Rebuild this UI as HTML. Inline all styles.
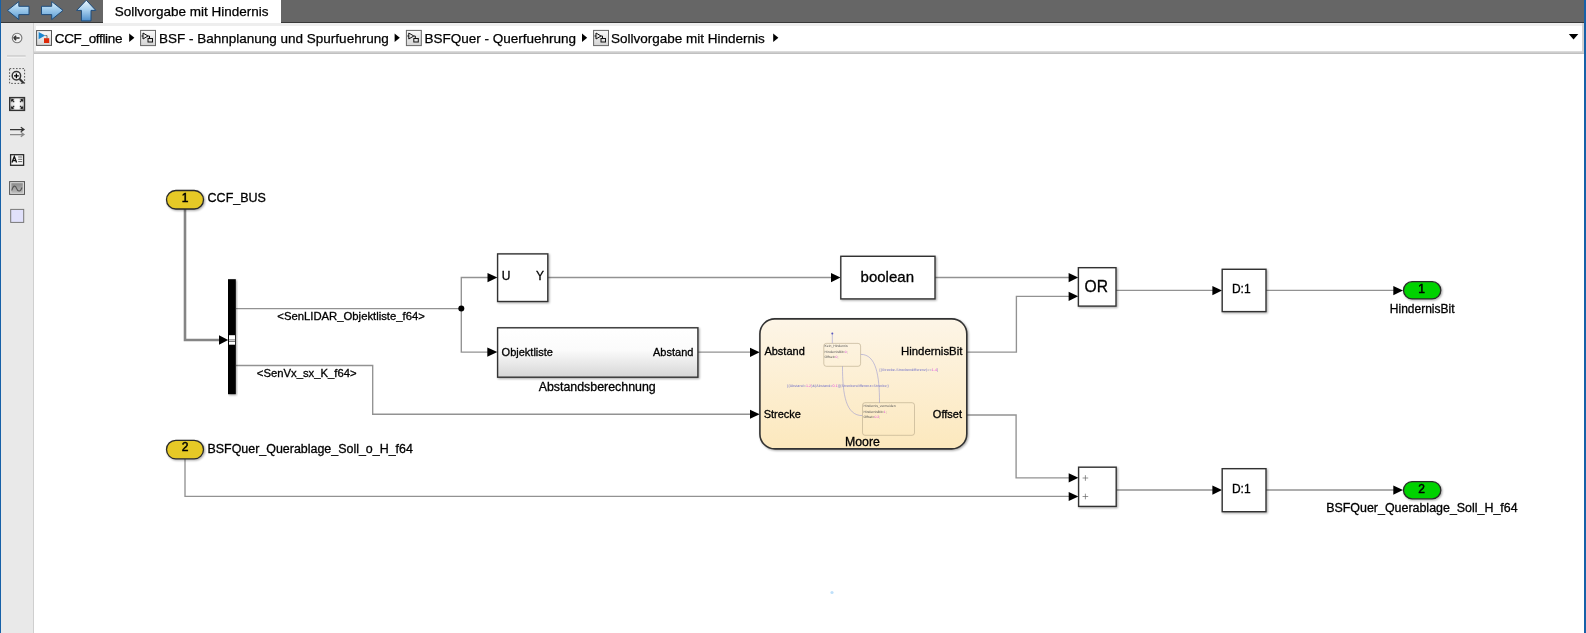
<!DOCTYPE html>
<html><head><meta charset="utf-8">
<style>
*{margin:0;padding:0;box-sizing:border-box}
body{will-change:transform}
html,body{width:1586px;height:633px;overflow:hidden;background:#fff;font-family:"Liberation Sans",sans-serif;color:#000}
.a{position:absolute}
#topbar{left:0;top:0;width:1586px;height:23px;background:#666;border-bottom:1px solid #383838}
#tab{left:103px;top:0;width:178px;height:23px;background:#fff}
#tabtxt{left:114.8px;top:3.8px;font-size:13.5px;white-space:nowrap;line-height:16px}
#tool{left:0;top:23px;width:34px;height:610px;background:#e9e9e9;border-right:1px solid #cfcfcf}
#crumbwrap{left:34px;top:23px;width:1550px;height:28.3px;background:#eeeeee}
#crumbbot{left:34px;top:51px;width:1550px;height:2.6px;background:linear-gradient(#e2e2e2,#b9b9b9)}
#crumb{left:35.7px;top:25.5px;width:1546.5px;height:25.5px;background:#fff}
.ct{position:absolute;top:30.8px;font-size:13.5px;white-space:nowrap;line-height:16px}
#lb{left:0;top:0;width:1.3px;height:633px;background:#1761a8}
#rb{left:1584px;top:0;width:2px;height:633px;background:#1761a8}
svg{position:absolute;left:0;top:0}
text{font-family:"Liberation Sans",sans-serif}
.tx text{stroke:#000;stroke-width:0.3px}
.ct,#tabtxt{-webkit-text-stroke:0.25px #000}
</style></head><body>
<div class="a" id="topbar"></div>
<div class="a" id="tab"></div>
<div class="a" id="tabtxt">Sollvorgabe mit Hindernis</div>
<div class="a" id="tool"></div>
<div class="a" id="crumbwrap"></div>
<div class="a" id="crumb"></div>
<div class="a" id="crumbbot"></div>
<div class="a" style="left:1582.2px;top:23px;width:1.5px;height:29px;background:#d2d2d2"></div>
<div class="ct" style="left:54.8px;letter-spacing:-0.34px">CCF_offline</div>
<div class="ct" style="left:159px">BSF - Bahnplanung und Spurfuehrung</div>
<div class="ct" style="left:424.5px">BSFQuer - Querfuehrung</div>
<div class="ct" style="left:611px">Sollvorgabe mit Hindernis</div>
<svg width="1586" height="60" viewBox="0 0 1586 60" style="position:absolute;left:0;top:0">
<defs>
 <linearGradient id="gNav" x1="0" y1="0" x2="0" y2="1">
  <stop offset="0" stop-color="#e4f3fc"/><stop offset="0.35" stop-color="#a9d2f0"/><stop offset="1" stop-color="#5b9bd3"/>
 </linearGradient>
 <linearGradient id="gNavU" x1="0" y1="0" x2="0" y2="1">
  <stop offset="0" stop-color="#eaf6fd"/><stop offset="0.5" stop-color="#a4cdee"/><stop offset="1" stop-color="#4f8fcc"/>
 </linearGradient>
 <linearGradient id="gIco" x1="0" y1="0" x2="0" y2="1">
  <stop offset="0" stop-color="#fafafa"/><stop offset="1" stop-color="#d4d4d4"/>
 </linearGradient>
</defs>
<g stroke="#1f4d7c" stroke-width="1" stroke-linejoin="round" fill="url(#gNav)">
 <path d="M7.5 10.4 L18.8 1.6 V6.3 H29 V14.6 H18.8 V19.6 Z"/>
 <path d="M63 10.4 L51.7 1.6 V6.3 H41.5 V14.6 H51.7 V19.6 Z"/>
 <path d="M86.3 0.2 L95.8 10.4 H91 V20.9 H81.4 V10.4 H76.6 Z" fill="url(#gNavU)"/>
</g>
<!-- breadcrumb back circle -->
<circle cx="17.1" cy="38" r="4.8" fill="#f2f2f2" stroke="#777" stroke-width="1.1"/>
<path d="M13.6 38 h6 M13.6 38 l2.6 -2.3 M13.6 38 l2.6 2.3" stroke="#333" stroke-width="1.5" fill="none"/>
<!-- separator -->
<rect x="7" y="55.5" width="18.6" height="1.2" fill="#bdbdbd"/>
<rect x="7" y="56.7" width="18.6" height="0.8" fill="#fbfbfb"/>
<!-- breadcrumb icons -->
<rect x="36.6" y="30.6" width="14.9" height="14.8" fill="url(#gIco)" stroke="#555" stroke-width="1"/>
<path d="M38.6 32 L45.2 35.6 L38.6 39.2 Z" fill="#1a86d0"/>
<path d="M45.2 35.6 H47 V38.5" stroke="#444" stroke-width="0.7" fill="none"/>
<rect x="44" y="38.2" width="5.2" height="4.8" fill="#dd2a0a"/>
<g>
 <rect x="140.6" y="30.4" width="14.9" height="15.2" fill="url(#gIco)" stroke="#666" stroke-width="1"/>
 <rect x="406.4" y="30.4" width="14.9" height="15.2" fill="url(#gIco)" stroke="#666" stroke-width="1"/>
 <rect x="593.6" y="30.4" width="14.9" height="15.2" fill="url(#gIco)" stroke="#666" stroke-width="1"/>
</g>
<g fill="none" stroke="#111" stroke-width="1">
 <path d="M143 33 L148 36 L143 39 Z M141.5 36 H143 M148 36 H149.5 V38.5"/>
 <rect x="148" y="38.5" width="4.5" height="3.5"/>
 <path d="M408.8 33 L413.8 36 L408.8 39 Z M407.3 36 H408.8 M413.8 36 H415.3 V38.5"/>
 <rect x="413.8" y="38.5" width="4.5" height="3.5"/>
 <path d="M596 33 L601 36 L596 39 Z M594.5 36 H596 M601 36 H602.5 V38.5"/>
 <rect x="601" y="38.5" width="4.5" height="3.5"/>
</g>
<g fill="#000">
 <path d="M129.2 33.6 L134.4 37.8 L129.2 42 Z"/>
 <path d="M394.6 33.6 L399.8 37.8 L394.6 42 Z"/>
 <path d="M582 33.6 L587.2 37.8 L582 42 Z"/>
 <path d="M773.2 33.6 L778.4 37.8 L773.2 42 Z"/>
 <path d="M1568.8 34.1 H1578.3 L1573.55 39.5 Z"/>
</g>
</svg>

<svg width="34" height="240" viewBox="0 0 34 240" style="position:absolute;left:0;top:0">
<defs>
 <linearGradient id="gFit" x1="0" y1="0" x2="1" y2="0">
  <stop offset="0" stop-color="#7a7a7a"/><stop offset="0.4" stop-color="#f4f4f4"/><stop offset="0.6" stop-color="#f4f4f4"/><stop offset="1" stop-color="#7a7a7a"/>
 </linearGradient>
 <linearGradient id="gFitV" x1="0" y1="0" x2="0" y2="1">
  <stop offset="0" stop-color="#fff" stop-opacity="0"/><stop offset="0.5" stop-color="#fff" stop-opacity="0.7"/><stop offset="1" stop-color="#fff" stop-opacity="0"/>
 </linearGradient>
 <linearGradient id="gImg" x1="0" y1="0" x2="0" y2="1">
  <stop offset="0" stop-color="#8c8c8c"/><stop offset="1" stop-color="#b8b8b8"/>
 </linearGradient>
</defs>
<!-- zoom -->
<rect x="9.6" y="68.6" width="15" height="14.8" fill="none" stroke="#555" stroke-width="1" stroke-dasharray="1.6 1.6"/>
<circle cx="16.4" cy="75.8" r="4.2" fill="#f4f4f4" stroke="#333" stroke-width="1.5"/>
<path d="M14 75.8 h4.8 M16.4 73.4 v4.8" stroke="#000" stroke-width="1.3"/>
<path d="M19.6 79 L23.8 83.2" stroke="#333" stroke-width="2.2"/>
<!-- fit -->
<rect x="9.7" y="97.6" width="14.8" height="12.8" fill="url(#gFit)" stroke="#333" stroke-width="1.4"/>
<rect x="10.4" y="98.3" width="13.4" height="11.4" fill="url(#gFitV)"/>
<g stroke="#222" stroke-width="1.1" fill="none">
 <path d="M11.6 99.6 L14.2 102.2 M11.6 99.6 h2 M11.6 99.6 v2"/>
 <path d="M22.6 99.6 L20 102.2 M22.6 99.6 h-2 M22.6 99.6 v2"/>
 <path d="M11.6 108.4 L14.2 105.8 M11.6 108.4 h2 M11.6 108.4 v-2"/>
 <path d="M22.6 108.4 L20 105.8 M22.6 108.4 h-2 M22.6 108.4 v-2"/>
</g>
<!-- arrows -->
<path d="M10 129.6 H23.8 M20.8 127.3 L24 129.6 L20.8 131.8" stroke="#333" stroke-width="1.2" fill="none"/>
<path d="M10 134.6 H23.8 M20.8 132.3 L24 134.6 L20.8 136.8" stroke="#888" stroke-width="1.2" fill="none"/>
<!-- A= -->
<rect x="10.6" y="154.7" width="13" height="10.6" fill="#f7f7f7" stroke="#2a2a2a" stroke-width="1.3"/>
<path d="M12 162.6 L14.3 156.6 L16.6 162.6 M12.9 160.6 h2.8" stroke="#111" stroke-width="1.4" fill="none"/>
<path d="M18.2 157 h4 M18.2 159.3 h4 M18.2 161.6 h4" stroke="#555" stroke-width="0.9"/>
<!-- image -->
<rect x="9.6" y="181.6" width="14.9" height="12.8" fill="#d8d8d8" stroke="#555" stroke-width="1"/>
<rect x="11.3" y="183.2" width="11.5" height="9.6" fill="url(#gImg)"/>
<path d="M11.8 190.5 C13 185 15.5 185 16.6 188.5 C17.8 192 20.5 192 22 187.5" stroke="#555" stroke-width="1.1" fill="none"/>
<!-- square -->
<rect x="10.7" y="209.4" width="13" height="13" fill="#e1e1fb" stroke="#777" stroke-width="1"/>
</svg>

<div class="a" id="lb"></div>
<div class="a" id="rb"></div>

<svg width="1586" height="633" viewBox="0 0 1586 633">
<defs>
 <linearGradient id="gAb" x1="0" y1="0" x2="0" y2="1">
  <stop offset="0" stop-color="#ffffff"/><stop offset="0.45" stop-color="#fbfbfb"/><stop offset="1" stop-color="#d6d6d6"/>
 </linearGradient>
 <linearGradient id="gMo" x1="0" y1="0" x2="0" y2="1">
  <stop offset="0" stop-color="#fdf5e7"/><stop offset="1" stop-color="#fce8bd"/>
 </linearGradient>
 <filter id="sh" x="-10%" y="-10%" width="130%" height="130%">
  <feGaussianBlur in="SourceAlpha" stdDeviation="0.8"/>
  <feOffset dx="1" dy="1" result="o"/>
  <feComponentTransfer><feFuncA type="linear" slope="0.35"/></feComponentTransfer>
  <feMerge><feMergeNode/><feMergeNode in="SourceGraphic"/></feMerge>
 </filter>
</defs>
<g fill="none" stroke="#929292" stroke-width="1.35">
 <!-- bus from inport1 -->
 <path d="M185 209 V340 H219.5" stroke="#858585" stroke-width="2.6"/>
 <!-- bus selector outputs -->
 <path d="M236 308.6 H461.3"/>
 <path d="M461.3 308.6 V277.5 H488"/>
 <path d="M461.3 308.6 V352.1 H488"/>
 <path d="M236 365.5 H372.7 V414.2 H750.5"/>
 <path d="M548 277.5 H831.5"/>
 <path d="M698 352.1 H750.5"/>
 <path d="M935 277.5 H1069"/>
 <path d="M967 352.1 H1016.4 V296.3 H1069"/>
 <path d="M967 415 H1016.1 V477.8 H1069"/>
 <path d="M1116 290.4 H1213"/>
 <path d="M1266 290.4 H1394"/>
 <path d="M185 459 V496.4 H1069"/>
 <path d="M1116 490 H1213"/>
 <path d="M1266 490 H1394"/>
</g>
<circle cx="461.3" cy="308.6" r="3" fill="#000"/>
<g fill="#000">
 <polygon points="219,335.2 228.2,340 219,344.8"/>
 <polygon points="487.5,273 497.4,277.5 487.5,282.3"/>
 <polygon points="487.3,347.5 497.4,352.1 487.3,356.7"/>
 <polygon points="750,347.7 759.7,352.3 750,357"/>
 <polygon points="750,409.7 759.7,414.2 750,418.8"/>
 <polygon points="831,273 840.5,277.6 831,282.3"/>
 <polygon points="1068.6,273 1078.2,277.5 1068.6,282.2"/>
 <polygon points="1068.6,291.8 1078.2,296.3 1068.6,301"/>
 <polygon points="1068.7,473.3 1078.4,477.8 1068.7,482.5"/>
 <polygon points="1068.7,491.9 1078.4,496.4 1068.7,501"/>
 <polygon points="1212.4,286 1222,290.5 1212.4,295.2"/>
 <polygon points="1212.4,485.5 1222,490 1212.4,494.7"/>
 <polygon points="1393.3,286 1403,290.5 1393.3,295.2"/>
 <polygon points="1393.3,485.5 1403,490 1393.3,494.7"/>
</g>
<!-- inports -->
<g filter="url(#sh)">
 <rect x="166.5" y="190.5" width="37" height="18.5" rx="9.25" fill="#e6c927" stroke="#2a2a2a" stroke-width="1.3"/>
 <rect x="166.5" y="440.3" width="37" height="18.5" rx="9.25" fill="#e6c927" stroke="#2a2a2a" stroke-width="1.3"/>
 <rect x="1403.5" y="281.7" width="37.3" height="17.2" rx="8.6" fill="#00d200" stroke="#2a2a2a" stroke-width="1.3"/>
 <rect x="1403.5" y="481.6" width="37.3" height="17.2" rx="8.6" fill="#00d200" stroke="#2a2a2a" stroke-width="1.3"/>
</g>
<g class="tx" font-size="12">
 <text x="185" y="201.5" text-anchor="middle" style="stroke-width:0.5px">1</text>
 <text x="185" y="451.3" text-anchor="middle" style="stroke-width:0.5px">2</text>
 <text x="1421.6" y="292.9" text-anchor="middle" style="stroke-width:0.5px">1</text>
 <text x="1421.6" y="492.8" text-anchor="middle" style="stroke-width:0.5px">2</text>
 <text x="207.6" y="202" font-size="12.5">CCF_BUS</text>
 <text x="207.5" y="453" font-size="12.45">BSFQuer_Querablage_Soll_o_H_f64</text>
 <text x="1422.2" y="312.7" text-anchor="middle">HindernisBit</text>
 <text x="1421.9" y="512.4" text-anchor="middle" font-size="12.45">BSFQuer_Querablage_Soll_H_f64</text>
</g>
<!-- bus selector -->
<rect x="228" y="279.2" width="7.8" height="115" fill="#000" filter="url(#sh)"/>
<rect x="229" y="335.2" width="6" height="9.5" fill="#fff"/>
<rect x="229" y="339.5" width="6" height="0.8" fill="#555"/>
<rect x="229" y="341.1" width="6" height="0.8" fill="#555"/>
<g class="tx" font-size="11.3">
 <text x="277.3" y="320.2">&lt;SenLIDAR_Objektliste_f64&gt;</text>
 <text x="256.8" y="377">&lt;SenVx_sx_K_f64&gt;</text>
</g>
<!-- blocks -->
<g filter="url(#sh)" stroke="#333" stroke-width="1.4">
 <rect x="497.6" y="253.9" width="50.2" height="47.6" fill="#fff"/>
 <rect x="840.8" y="256.3" width="94.2" height="42.6" fill="#fff"/>
 <rect x="1078.4" y="267.7" width="37.6" height="38.4" fill="#fff"/>
 <rect x="1222.2" y="269.3" width="43.8" height="42.3" fill="#fff"/>
 <rect x="1078.6" y="467.2" width="37.6" height="39.2" fill="#fff"/>
 <rect x="1222.2" y="468.7" width="43.8" height="43" fill="#fff"/>
 <rect x="497.6" y="327.8" width="200.3" height="49.4" fill="url(#gAb)"/>
 <rect x="759.9" y="318.9" width="206.9" height="130" rx="15" fill="url(#gMo)" stroke-width="1.6"/>
</g>
<g class="tx" font-size="12">
 <text x="501.8" y="280.4">U</text>
 <text x="544.1" y="280.4" text-anchor="end">Y</text>
 <text x="1241.3" y="292.7" text-anchor="middle">D:1</text>
 <text x="1241.3" y="493" text-anchor="middle">D:1</text>
 <text x="597.2" y="390.7" text-anchor="middle" font-size="12.4">Abstandsberechnung</text>
 <text x="862.4" y="445.5" text-anchor="middle" font-size="12.3">Moore</text>
</g>
<g class="tx" font-size="15">
 <text x="887.3" y="282" text-anchor="middle">boolean</text>
 <text x="1096.2" y="291.5" text-anchor="middle" font-size="15.6">OR</text>
</g>
<g class="tx" font-size="11">
 <text x="501.6" y="355.6">Objektliste</text>
 <text x="693.4" y="355.6" text-anchor="end">Abstand</text>
 <text x="764.4" y="355.4">Abstand</text>
 <text x="962.4" y="355.4" text-anchor="end" font-size="11.4">HindernisBit</text>
 <text x="763.7" y="417.8">Strecke</text>
 <text x="962" y="417.8" text-anchor="end">Offset</text>
</g>
<g stroke="#666" stroke-width="0.7">
 <path d="M1082.6 478 h5.6 M1085.4 475.2 v5.6"/>
 <path d="M1082.6 496.5 h5.6 M1085.4 493.7 v5.6"/>
</g>
<!-- mini stateflow chart -->
<g fill="none" stroke="#b7a78a" stroke-width="0.6">
 <rect x="823.8" y="343.4" width="36.8" height="22.9" rx="2.5"/>
 <rect x="862.5" y="402.7" width="52" height="32.6" rx="2.5"/>
</g>
<g fill="none" stroke="#8a8ad0" stroke-width="0.5">
 <path d="M832.3 334 V343.2"/>
 <path d="M842.5 366.3 C842.5 395 846 415.6 862.3 415.6"/>
 <path d="M879.5 402.7 C879.5 375 876 354.4 860.8 354.4"/>
</g>
<circle cx="832.3" cy="333.6" r="1" fill="#5a5ac0"/>
<g font-size="3.4" fill="#555" text-rendering="geometricPrecision">
 <text x="824.6" y="346.8">Kein_Hindernis</text>
 <text x="824.6" y="353.3">HindernisBit=<tspan fill="#e040e0">0</tspan>;</text>
 <text x="824.6" y="357.6">Offset=<tspan fill="#e040e0">0</tspan>;</text>
 <text x="863.5" y="406.6">Hindernis_vermeiden</text>
 <text x="863.5" y="413.4">HindernisBit=<tspan fill="#e040e0">1</tspan>;</text>
 <text x="863.5" y="417.6">Offset=<tspan fill="#e040e0">0.2</tspan>;</text>
</g>
<g font-size="3.6" fill="#7070c8" text-rendering="geometricPrecision">
 <text x="787.3" y="386.7" textLength="101.5">[(Abstand&lt;<tspan fill="#e040e0">1.2</tspan>)&amp;(Abstand&gt;<tspan fill="#e040e0">0.1</tspan>)]{Streckendifferenz=Strecke;}</text>
 <text x="879.6" y="371" textLength="58.4">[(Strecke-Streckendifferenz)&gt;=<tspan fill="#e040e0">1.4</tspan>]</text>
</g>
<circle cx="832" cy="592.5" r="1.6" fill="#bfe0fa"/>

</svg>
</body></html>
